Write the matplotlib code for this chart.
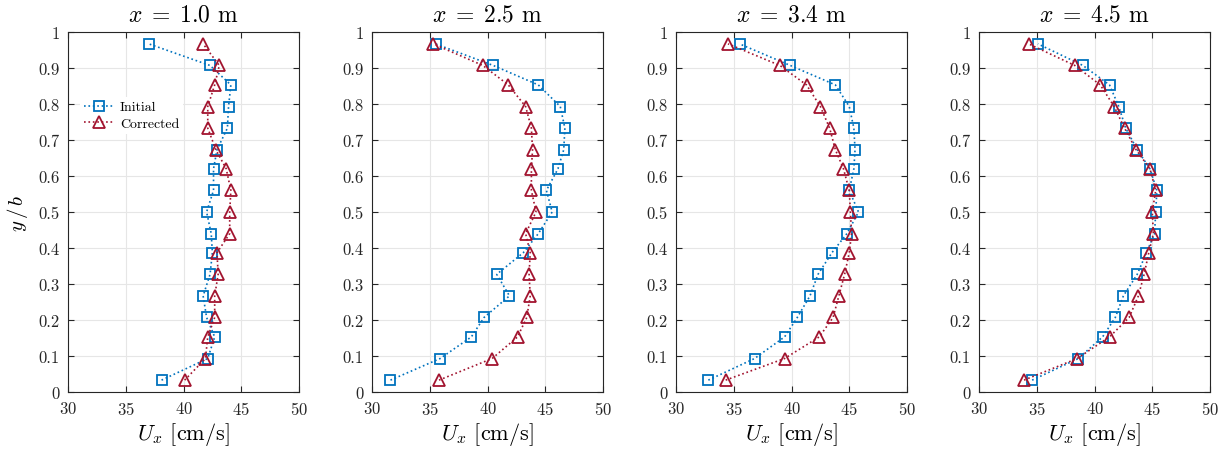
import matplotlib
matplotlib.use('Agg')
import matplotlib.pyplot as plt
from matplotlib.ticker import FuncFormatter

plt.rcParams['font.family'] = 'serif'
plt.rcParams['font.serif'] = ['cmr10', 'DejaVu Serif']
plt.rcParams['mathtext.fontset'] = 'cm'
plt.rcParams['axes.formatter.use_mathtext'] = True

# vertical positions (y/b), same for all stations
yb = [0.033, 0.093, 0.153, 0.207, 0.267, 0.327, 0.387, 0.44, 0.5,
      0.56, 0.62, 0.673, 0.733, 0.793, 0.853, 0.907, 0.967]

titles = ['$x\\;=\\;1.0$ m', '$x\\;=\\;2.5$ m', '$x\\;=\\;3.4$ m', '$x\\;=\\;4.5$ m']

# values listed from bottom (y/b=0.033) to top (y/b=0.967)
init_1 = [38.1, 42.1, 42.7, 42.0, 41.7, 42.3, 42.5, 42.4, 42.0,
          42.6, 42.6, 42.9, 43.8, 43.9, 44.1, 42.3, 37.0]
corr_1 = [40.1, 41.9, 42.1, 42.7, 42.7, 43.0, 42.9, 44.0, 44.0,
          44.1, 43.7, 42.8, 42.1, 42.1, 42.7, 43.1, 41.7]

init_2 = [31.6, 35.9, 38.6, 39.7, 41.9, 40.8, 43.1, 44.4, 45.6,
          45.1, 46.1, 46.6, 46.7, 46.3, 44.4, 40.5, 35.5]
corr_2 = [35.8, 40.4, 42.6, 43.4, 43.7, 43.6, 43.7, 43.3, 44.2,
          43.8, 43.8, 43.9, 43.8, 43.3, 41.8, 39.6, 35.3]

init_3 = [32.8, 36.8, 39.4, 40.5, 41.6, 42.3, 43.5, 44.8, 45.8,
          45.0, 45.4, 45.5, 45.4, 45.0, 43.8, 39.9, 35.5]
corr_3 = [34.3, 39.4, 42.4, 43.6, 44.1, 44.6, 45.0, 45.2, 45.1,
          45.0, 44.5, 43.8, 43.3, 42.5, 41.3, 39.0, 34.5]

init_4 = [34.6, 38.6, 40.7, 41.8, 42.5, 43.7, 44.5, 45.2, 45.3,
          45.4, 44.8, 43.7, 42.7, 42.1, 41.3, 39.0, 35.1]
corr_4 = [33.9, 38.5, 41.3, 43.0, 43.8, 44.3, 44.7, 45.1, 45.0,
          45.3, 44.8, 43.6, 42.6, 41.7, 40.5, 38.3, 34.3]

initial = [init_1, init_2, init_3, init_4]
corrected = [corr_1, corr_2, corr_3, corr_4]

blue = '#0072BD'
red = '#A2142F'

fig = plt.figure(figsize=(12.31, 4.52), dpi=100)
W, H = 1231.0, 452.0
lefts = [68, 372, 676, 979]
aw = 231
top, bottom = 33, 393

for k in range(4):
    ax = fig.add_axes([lefts[k] / W, 1 - bottom / H, aw / W, (bottom - top) / H])
    ax.plot(initial[k], yb, linestyle=':', color=blue, marker='s', markersize=7,
            markerfacecolor='none', markeredgewidth=1.3, linewidth=1.2, label='Initial')
    ax.plot(corrected[k], yb, linestyle=':', color=red, marker='^', markersize=9,
            markerfacecolor='none', markeredgewidth=1.3, linewidth=1.2, label='Corrected')
    ax.set_xlim(30, 50)
    ax.set_ylim(0, 1)
    ax.set_xticks([30, 35, 40, 45, 50])
    ax.set_yticks([0, 0.1, 0.2, 0.3, 0.4, 0.5, 0.6, 0.7, 0.8, 0.9, 1])
    ax.yaxis.set_major_formatter(FuncFormatter(lambda v, p: '%g' % v))
    ax.grid(True, color='#e6e6e6', linewidth=0.8)
    ax.set_axisbelow(True)
    ax.tick_params(direction='in', top=True, right=True, labelsize=12,
                   color='#262626', length=4, labelcolor='#262626', pad=6)
    for s in ax.spines.values():
        s.set_color('#262626')
        s.set_linewidth(0.8)
    ax.set_title(titles[k], fontsize=17, pad=8)
    ax.set_xlabel('$U_x$ [cm/s]', fontsize=16, labelpad=2)
    if k == 0:
        ax.set_ylabel('$y\\,/\\,b$', fontsize=15, labelpad=6)
        leg = ax.legend(loc='upper left', bbox_to_anchor=(0.02, 0.84), frameon=True,
                        fontsize=10, handlelength=2.2, handletextpad=0.4,
                        borderpad=0.3, labelspacing=0.3)
        leg.get_frame().set_edgecolor('none')
        leg.get_frame().set_facecolor('white')
        leg.get_frame().set_alpha(1)

fig.savefig('out.png', dpi=100)
